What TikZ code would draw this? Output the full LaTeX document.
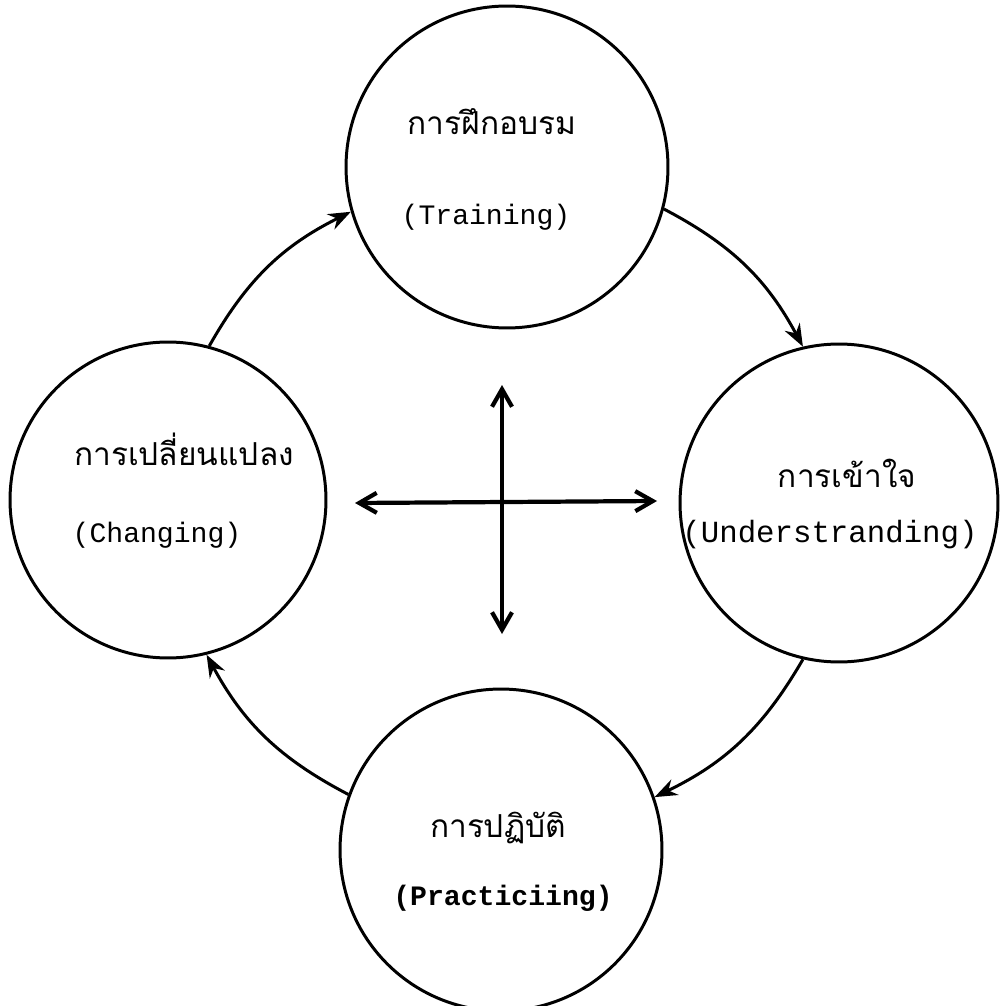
\documentclass[tikz,border=0pt]{standalone}
\usepackage{fontspec}
\newfontfamily\thaifont[Script=Thai]{Loma}
\setmonofont{Liberation Mono}
\usetikzlibrary{arrows.meta}
\begin{document}
\begin{tikzpicture}[x=0.02cm,y=-0.02cm,
 stage/.style={circle, draw, line width=1.7pt, inner sep=0pt},
 flow/.style={line width=1.7pt, -{Stealth[length=4.5mm,width=3.4mm]}},
 cross/.style={line width=2.4pt, {Straight Barb[length=3.5mm,width=4mm]}-{Straight Barb[length=3.5mm,width=4mm]}},
 th/.style={anchor=base, font=\thaifont\fontsize{18}{22}\selectfont},
 en/.style={anchor=base, font=\ttfamily\fontsize{16}{19}\selectfont}]
\fill[white] (0,0) rectangle (1001,1006);
\useasboundingbox (0,0) rectangle (1001,1006);
\node[stage, minimum size=6.44cm] (T) at (507,167) {};
\node[stage, minimum size=6.32cm] (L) at (168,500) {};
\node[stage, minimum size=6.36cm] (R) at (839,503) {};
\node[stage, minimum size=6.44cm] (B) at (501,850) {};
\node[th] (Tth) at (492,135) {การฝึกอบรม};
\node[en] (Ten) at (486,225) {(Training)};
\node[th] (Lth) at (184,465) {การเปลี่ยนแปลง};
\node[en] (Len) at (157,542) {(Changing)};
\node[th] (Rth) at (847,487) {การเข้าใจ};
\node[en, font=\ttfamily\fontsize{17.5}{20}\selectfont] (Ren) at (830,542) {(Understranding)};
\node[th] (Bth) at (498,837) {การปฏิบัติ};
\node[en, font=\ttfamily\bfseries\fontsize{16}{19}\selectfont] (Ben) at (503,905) {(Practiciing)};
\coordinate (vt) at (502,385);
\coordinate (vb) at (502,634);
\coordinate (hl) at (355,503);
\coordinate (hr) at (657,501);
\draw[cross] (vt) -- (vb);
\draw[cross] (hl) -- (hr);
\draw[flow] (L.75) to[bend left=17] (T.196);
\draw[flow] (T.345) to[bend left=17] (R.103);
\draw[flow] (R.257) to[bend left=17] (B.19);
\draw[flow] (B.160) to[bend left=17] (L.284);
\end{tikzpicture}
\end{document}
